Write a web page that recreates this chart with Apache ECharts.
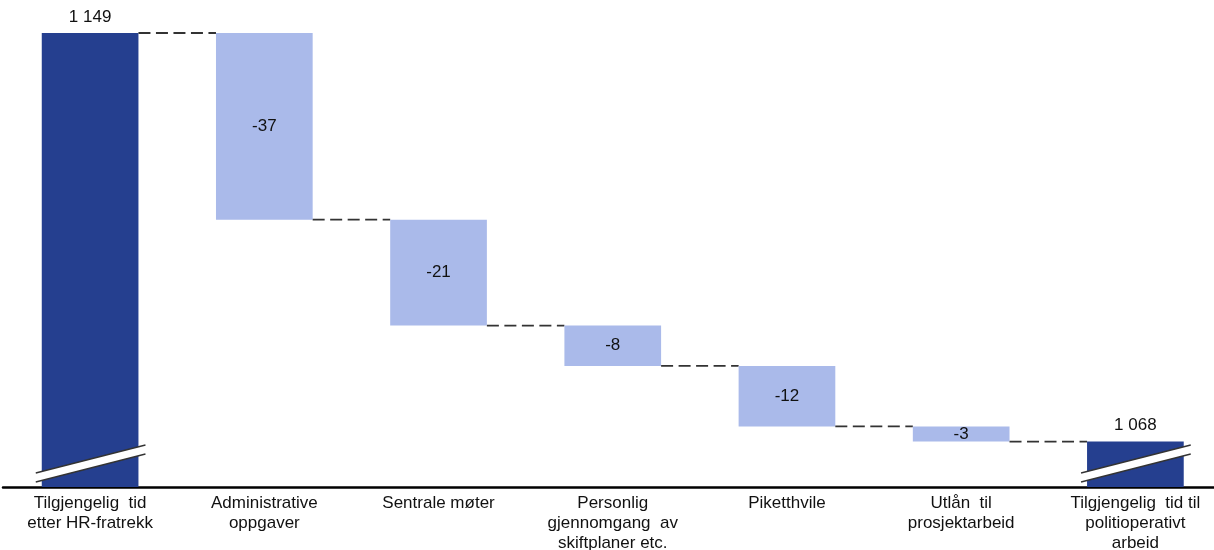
<!DOCTYPE html>
<html>
<head>
<meta charset="utf-8">
<script src="https://cdn.jsdelivr.net/npm/echarts@6/dist/echarts.min.js"></script>
<style>html,body{margin:0;padding:0;background:#fff}#c{width:1214px;height:550px}</style>
</head>
<body>
<div id="c"></div>
<script>
const categories = [
  'Tilgjengelig  tid\netter HR-fratrekk',
  'Administrative\noppgaver',
  'Sentrale møter',
  'Personlig\ngjennomgang  av\nskiftplaner etc.',
  'Piketthvile',
  'Utlån  til\nprosjektarbeid',
  'Tilgjengelig  tid til\npolitioperativt\narbeid'
];
const values = [1149, -37, -21, -8, -12, -3, 1068];
const barTypes = ['total', 'delta', 'delta', 'delta', 'delta', 'delta', 'total'];
const valueLabels = ['1 149', '-37', '-21', '-8', '-12', '-3', '1 068'];
const axisMin = 1059;
const axisMax = 1149;

const DARK = '#253F8F';
const LIGHT = '#AABAEA';
const FONT = '"Liberation Sans", Arial, sans-serif';

// build waterfall segments
const seriesData = [];
let running = 0;
values.forEach((v, i) => {
  let s, e;
  if (barTypes[i] === 'total') { s = axisMin; e = v; running = v; }
  else { s = running; e = running + v; running = e; }
  seriesData.push([i, s, e, barTypes[i] === 'total' ? 1 : 0]);
});

const chart = echarts.init(document.getElementById('c'), null, {renderer: 'canvas'});

function renderItem(params, api) {
  const idx = api.value(0);
  const s = api.value(1), e = api.value(2), isTotal = api.value(3) === 1;
  const p1 = api.coord([idx, s]);
  const p2 = api.coord([idx, e]);
  const band = api.size([1, 0])[0];
  const bw = band * 0.555;
  const left = p1[0] - bw / 2;
  const top = Math.min(p1[1], p2[1]);
  const h = Math.abs(p1[1] - p2[1]);
  const children = [];
  children.push({
    type: 'rect',
    shape: {x: left, y: top, width: bw, height: h},
    style: {fill: isTotal ? DARK : LIGHT}
  });
  const font = '17px ' + FONT;
  if (isTotal) {
    children.push({
      type: 'text',
      style: {text: valueLabels[idx], x: p1[0], y: top - 16, align: 'center', verticalAlign: 'middle', font: font, fill: '#111'}
    });
    // axis break marker
    const base = p1[1];
    const lx = left - 6, rx = left + bw + 7;
    children.push({
      type: 'polygon',
      shape: {points: [[lx, base - 14], [rx, base - 42], [rx, base - 33], [lx, base - 5]]},
      style: {fill: '#fff', stroke: null}
    });
    children.push({
      type: 'line',
      shape: {x1: lx, y1: base - 14, x2: rx, y2: base - 42},
      style: {stroke: '#333', lineWidth: 1.3}
    });
    children.push({
      type: 'line',
      shape: {x1: lx, y1: base - 5, x2: rx, y2: base - 33},
      style: {stroke: '#333', lineWidth: 1.3}
    });
  } else {
    children.push({
      type: 'text',
      style: {text: valueLabels[idx], x: p1[0], y: top + h / 2, align: 'center', verticalAlign: 'middle', font: font, fill: '#111'}
    });
  }
  // connector to next bar
  if (idx < values.length - 1) {
    const ly = p2[1];
    children.push({
      type: 'line',
      shape: {x1: left + bw, y1: ly, x2: left + band, y2: ly},
      style: {stroke: '#333', lineWidth: 1.8, lineDash: [12, 5.5]}
    });
  }
  return {type: 'group', children: children};
}

chart.setOption({
  animation: false,
  backgroundColor: '#fff',
  grid: {left: 3, width: 1219.5, top: 33, bottom: 63, containLabel: false, outerBoundsMode: 'none'},
  xAxis: {
    type: 'category',
    data: categories,
    axisTick: {show: false},
    axisLine: {show: true, lineStyle: {color: '#000', width: 2.5}},
    axisLabel: {
      interval: 0, margin: 6, fontSize: 17, lineHeight: 20,
      fontFamily: FONT, color: '#111', align: 'center'
    },
    splitLine: {show: false}
  },
  yAxis: {
    type: 'value', min: axisMin, max: axisMax, show: false,
    splitLine: {show: false}
  },
  series: [{
    type: 'custom',
    renderItem: renderItem,
    data: seriesData,
    clip: false,
    encode: {x: 0, y: [1, 2]},
    z: 3
  }]
});
</script>
</body>
</html>
